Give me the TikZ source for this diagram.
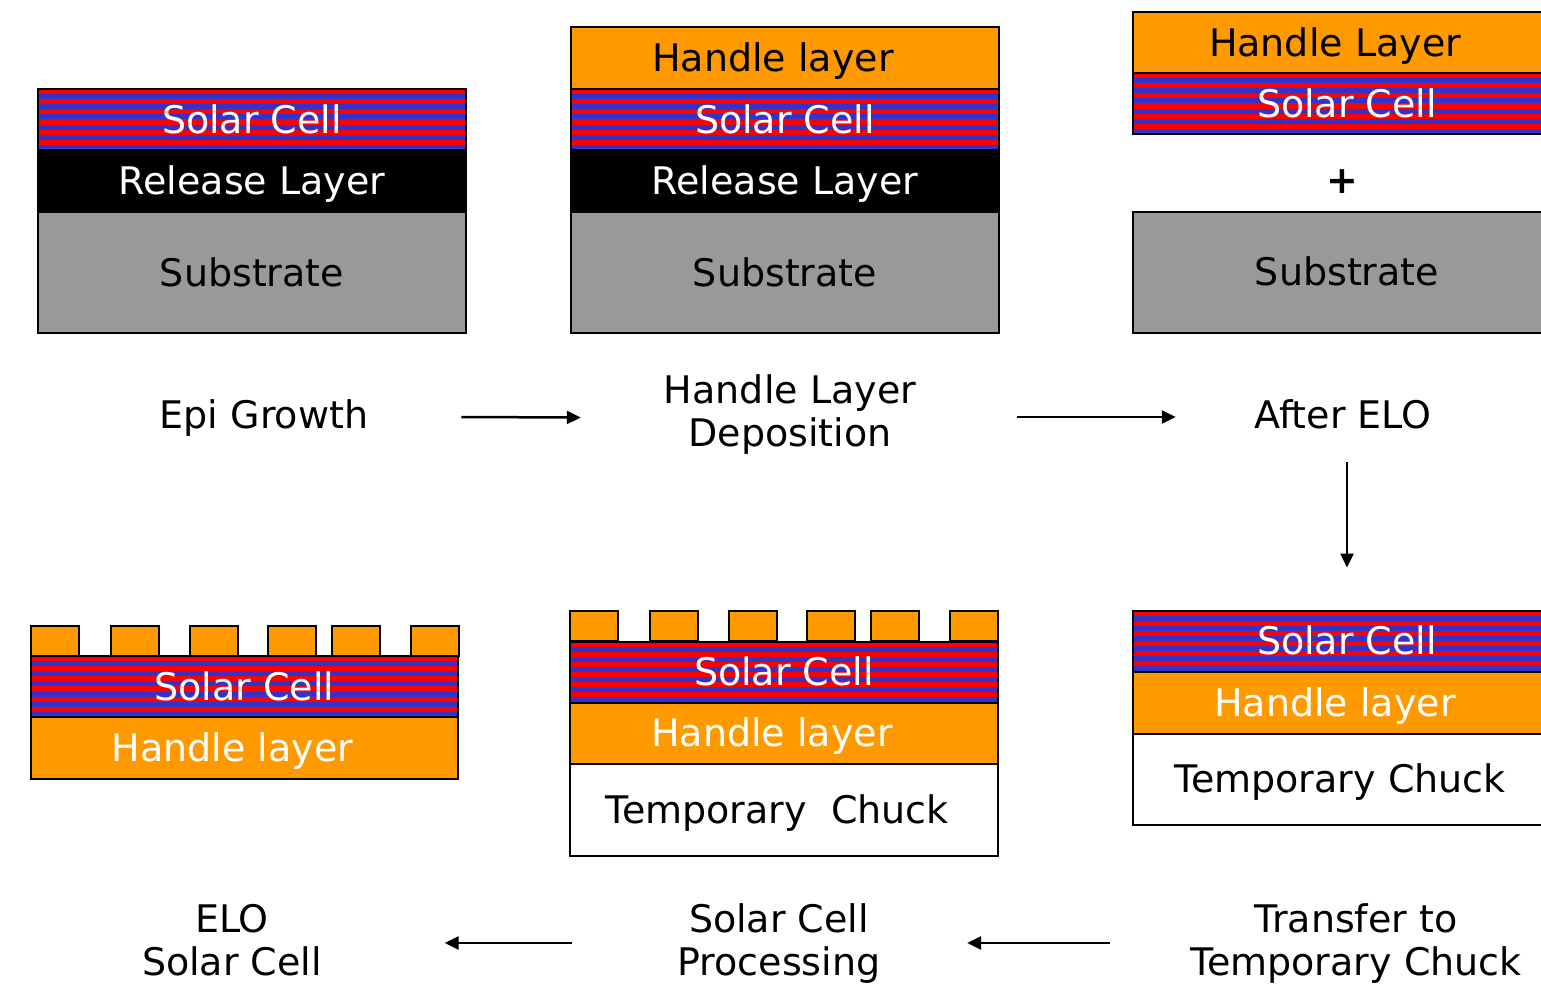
\documentclass[tikz,border=0pt]{standalone}
\usepackage{fontspec}
\setmainfont{DejaVu Sans}
\usetikzlibrary{arrows.meta,positioning,calc}
\definecolor{cellred}{HTML}{FF0000}
\definecolor{cellblue}{HTML}{3333CC}
\definecolor{handleorange}{HTML}{FF9900}
\definecolor{subgray}{HTML}{999999}

\begin{document}
\begin{tikzpicture}[x=1pt, y=-1pt,
  every node/.style={font=\fontsize{38}{43}\selectfont, inner sep=0pt, text height=27.7pt, text depth=0pt},
  layer/.style={draw=black, line width=2pt, minimum width=428pt, outer sep=0pt},
  cell/.style={layer, minimum height=61pt, fill=cellblue, text=white,
    path picture={\foreach \k in {0,2,...,10}
      \fill[cellred] ([yshift=-\k*5.08pt]path picture bounding box.north west) rectangle ([yshift=-\k*5.08pt-5.08pt]path picture bounding box.north east);}},
  release/.style={layer, minimum height=62pt, fill=black, text=white},
  substrate/.style={layer, minimum height=121pt, fill=subgray},
  handle/.style={layer, minimum height=61pt, fill=handleorange, execute at end node={\hspace{24pt}}},
  chuck/.style={layer, minimum height=92pt, fill=white, execute at end node={\hspace{14pt}}},
  finger/.style={draw=black, line width=2pt, fill=handleorange},
  flow/.style={-{Triangle[length=14pt,width=13pt]}, line width=2.5pt}]
\path[use as bounding box] (0,0) rectangle (1541,989);
\clip (0,0) rectangle (1541,989);

% epi growth
\node[cell] (c1) at (252,119.5) {Solar Cell};
\node[release, below=0pt of c1] (r1) {Release Layer};
\node[substrate, below=0pt of r1] (s1) {Substrate};

% handle layer deposition
\node[handle, minimum height=62pt] (h2) at (785,58) {Handle layer};
\node[cell, below=0pt of h2] (c2) {Solar Cell};
\node[release, below=0pt of c2] (r2) {Release Layer};
\node[substrate, below=0pt of r2] (s2) {Substrate};

% after ELO
\node[handle] (h3) at (1347,42.5) {Handle Layer};
\node[cell, below=0pt of h3] (c3) {Solar Cell};
\node (plus) at (1342,180) {\textbf{+}};
\node[substrate] (s3) at (1347,272) {Substrate};

% transfer to temporary chuck
\node[cell] (c6) at (1347,641) {Solar Cell};
\node[handle, below=0pt of c6, text=white, minimum height=62pt] (h6) {Handle layer};
\node[chuck, below=0pt of h6, minimum height=91pt] (k6) {Temporary Chuck};

% processing
\foreach \dx in {0,80,159,237,301,380}
  \draw[finger] ({570+\dx},611) rectangle ++(48,30);
\node[cell] (c5) at (784,672) {Solar Cell};
\node[handle, below=0pt of c5, text=white] (h5) {Handle layer};
\node[chuck, below=0pt of h5] (k5) {Temporary\ \ Chuck};

% finished cell
\foreach \dx in {0,80,159,237,301,380}
  \draw[finger] ({31+\dx},626) rectangle ++(48,30);
\node[cell, minimum width=427pt] (c4) at (244.5,686.5) {Solar Cell};
\node[handle, below=0pt of c4, text=white, minimum width=427pt, minimum height=62pt] (h4) {Handle layer};

% step labels
\node (epi) at (264,414.5) {Epi Growth};
\node[align=center] (dep) at (790,432.5) {Handle Layer\\Deposition};
\node (after) at (1343,414.5) {After ELO};
\node[align=center] (transfer) at (1356,962) {Transfer to\\Temporary Chuck};
\node[align=center] (proc) at (779,962) {Solar Cell\\Processing};
\node[align=center] (elo) at (232,962) {ELO\\Solar Cell};

\draw[flow] ([xshift=93pt,yshift=-2.5pt]epi.east) -- ([xshift=-83pt,yshift=15pt]dep.west);
\draw[flow] ([xshift=101pt,yshift=15.5pt]dep.east) -- ([xshift=-78.5pt,yshift=-2.5pt]after.west);
\draw[flow, shorten <=33.5pt, shorten >=43pt] (after.south -| c6.north) -- (c6.north);
\draw[flow] ([xshift=-80.5pt,yshift=19pt]transfer.west) -- ([xshift=86.5pt,yshift=19pt]proc.east);
\draw[flow] ([xshift=-105.5pt,yshift=19pt]proc.west) -- ([xshift=122.5pt,yshift=19pt]elo.east);
\end{tikzpicture}
\end{document}
